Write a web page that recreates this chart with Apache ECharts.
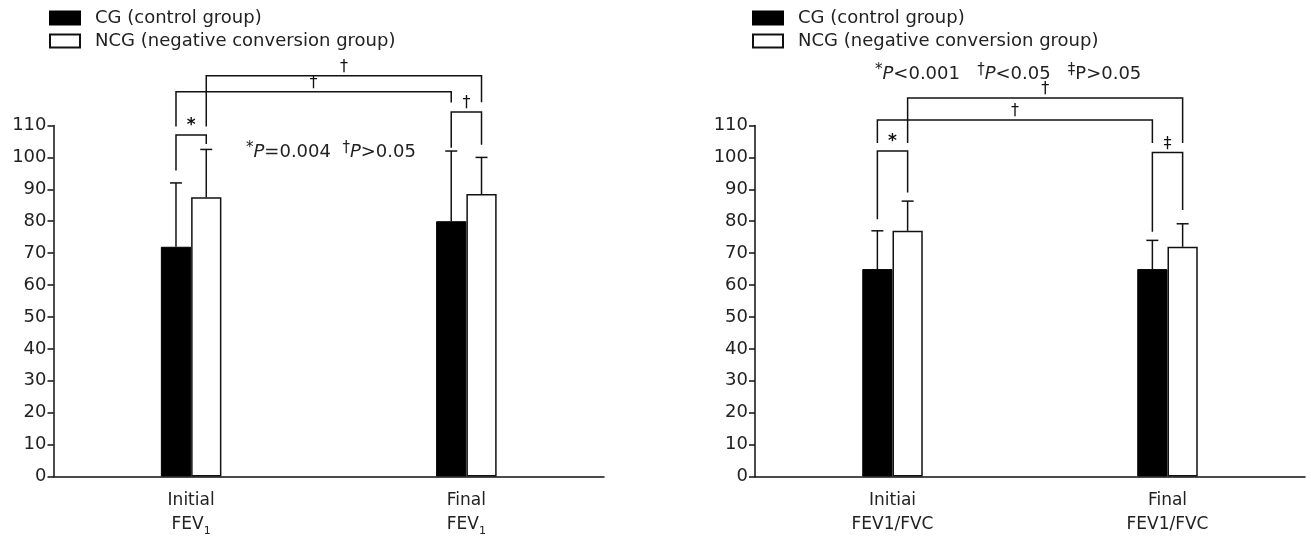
<!DOCTYPE html>
<html><head><meta charset="utf-8">
<script src="https://cdn.jsdelivr.net/npm/echarts@6/dist/echarts.min.js"></script>
<style>html,body{margin:0;padding:0;background:#fff}#c{width:1311px;height:540px}</style>
</head><body><div id="c"></div>
<script>
// ---- data ----
const seriesNames = ['CG (control group)', 'NCG (negative conversion group)'];
const categoriesLeft = ['Initial\nFEV_1', 'Final\nFEV_1'];
const categoriesRight = ['Initiai\nFEV1/FVC', 'Final\nFEV1/FVC'];
const yMin = 0, yMax = 110, yInterval = 10;
// left chart (FEV1)
const leftCG = [72, 80];
const leftCGUpper = [92, 102];
const leftNCG = [87.5, 88.5];
const leftNCGUpper = [102.5, 100];
// right chart (FEV1/FVC)
const rightCG = [65, 65];
const rightCGUpper = [77, 74];
const rightNCG = [77, 72];
const rightNCGUpper = [86.3, 79.2];
// significance brackets: [catA, groupA, catB, groupB, lineValue, legAEndValue, legBEndValue, mark]
const leftBrackets = [
  [0, 1, 1, 1, 125.6, 109.7, 117.3, '†'],
  [0, 0, 1, 0, 120.6, 109.7, 117.2, '†'],
  [0, 0, 0, 1, 107.0, 95.9, 104.2, '*'],
  [1, 0, 1, 1, 114.2, 103.0, 104.0, '†']
];
const rightBrackets = [
  [0, 1, 1, 1, 118.6, 104.5, 104.5, '†'],
  [0, 0, 1, 0, 111.7, 104.5, 104.5, '†'],
  [0, 0, 0, 1, 102.0, 80.6, 89.0, '*'],
  [1, 0, 1, 1, 101.5, 76.7, 83.5, '‡']
];
const leftNote = '{sup|*}{it|P}=0.004  {sup|†}{it|P}>0.05';
const rightNote = '{sup|*}{it|P}<0.001   {sup|†}{it|P}<0.05   {sup|‡}P>0.05';

// ---- styling ----
const FONT = 'DejaVu Sans';
const INK = '#111';
const TXT = '#222';
const BAR_FRAC = 0.11;

function errorSeries(g, group, means, uppers) {
  return {
    type: 'custom', xAxisIndex: g, yAxisIndex: g, silent: true, z: 5, clip: false,
    data: means.map((m, i) => [i, m, uppers[i]]),
    renderItem: (params, api) => {
      const cat = api.value(0);
      const c = api.coord([cat, api.value(1)]);
      const u = api.coord([cat, api.value(2)]);
      const bw = api.size([1, 0])[0] * BAR_FRAC;
      const x = c[0] + (group === 0 ? -1 : 1) * bw / 2;
      const cap = 6;
      return { type: 'group', children: [
        { type: 'line', shape: { x1: x, y1: c[1], x2: x, y2: u[1] }, style: { stroke: INK, lineWidth: 1.5 } },
        { type: 'line', shape: { x1: x - cap, y1: u[1], x2: x + cap, y2: u[1] }, style: { stroke: INK, lineWidth: 1.5 } }
      ]};
    }
  };
}

function bracketSeries(g, brackets) {
  return {
    type: 'custom', xAxisIndex: g, yAxisIndex: g, silent: true, z: 6, clip: false,
    data: brackets.map(b => [b[0], b[4]]),
    renderItem: (params, api) => {
      const b = brackets[params.dataIndex];
      const bw = api.size([1, 0])[0] * BAR_FRAC;
      const xa = api.coord([b[0], 0])[0] + (b[1] === 0 ? -1 : 1) * bw / 2;
      const xb = api.coord([b[2], 0])[0] + (b[3] === 0 ? -1 : 1) * bw / 2;
      const yl = api.coord([0, b[4]])[1];
      const ya = api.coord([0, b[5]])[1];
      const yb = api.coord([0, b[6]])[1];
      return { type: 'group', children: [
        { type: 'polyline', shape: { points: [[xa, ya], [xa, yl], [xb, yl], [xb, yb]] },
          style: { stroke: INK, lineWidth: 1.5, fill: null } },
        { type: 'text', x: (xa + xb) / 2, y: yl - 1,
          style: { text: b[7], fill: INK, font: (b[7] === '*' ? 'bold 17px ' : '16px ') + FONT, align: 'center', verticalAlign: 'bottom' } }
      ]};
    }
  };
}

function barSeries(g, idx, values) {
  return {
    name: seriesNames[idx], type: 'bar', xAxisIndex: g, yAxisIndex: g,
    data: values, barWidth: (BAR_FRAC * 100) + '%', barGap: '0%',
    itemStyle: idx === 0 ? { color: '#000', borderColor: '#000', borderWidth: 1 }
                         : { color: '#fff', borderColor: INK, borderWidth: 1.5 },
    silent: true, animation: false
  };
}

function catAxis(g, cats) {
  return {
    type: 'category', gridIndex: g, data: cats,
    axisLine: { lineStyle: { color: INK, width: 1.5 } },
    axisTick: { length: 7, lineStyle: { color: INK, width: 1.5 } },
    axisLabel: {
      margin: 12, fontFamily: FONT, fontSize: 17, color: TXT, lineHeight: 24,
      formatter: v => v.replace('_1', '{sub|1}'),
      rich: { sub: { fontFamily: FONT, fontSize: 11, color: TXT, verticalAlign: 'bottom', lineHeight: 18 } }
    }
  };
}
function valAxis(g) {
  return {
    type: 'value', gridIndex: g, min: yMin, max: yMax, interval: yInterval,
    axisLine: { show: true, lineStyle: { color: INK, width: 1.5 } },
    axisTick: { show: true, length: 6, lineStyle: { color: INK, width: 1.5 } },
    splitLine: { show: false },
    axisLabel: { margin: 7, fontFamily: FONT, fontSize: 18, color: TXT }
  };
}

const legendBase = {
  data: seriesNames, orient: 'vertical', icon: 'rect', itemWidth: 30, itemHeight: 13, itemGap: 5,
  selectedMode: false, padding: 0,
  textStyle: { fontFamily: FONT, fontSize: 18, color: TXT, lineHeight: 18, padding: [0, 0, 0, 10] }
};
const richNote = {
  sup: { fontFamily: FONT, fontSize: 15, fill: TXT, verticalAlign: 'top', padding: [0, 0, 8, 0] },
  it: { fontFamily: FONT, fontSize: 18, fontStyle: 'italic', fill: TXT }
};

const chart = echarts.init(document.getElementById('c'), null, { renderer: 'canvas' });
chart.setOption({
  animation: false,
  backgroundColor: '#fff',
  legend: [
    Object.assign({ left: 49, top: 9 }, legendBase),
    Object.assign({ left: 752, top: 9 }, legendBase)
  ],
  grid: [
    { left: 53.5, right: 707, top: 125.5, bottom: 63.5 },
    { left: 755, right: 6, top: 125.5, bottom: 63.5 }
  ],
  xAxis: [catAxis(0, categoriesLeft), catAxis(1, categoriesRight)],
  yAxis: [valAxis(0), valAxis(1)],
  graphic: [
    { type: 'text', left: 246, top: 141, style: { text: leftNote, font: '18px ' + FONT, fill: TXT, rich: richNote } },
    { type: 'text', left: 875, top: 63, style: { text: rightNote, font: '18px ' + FONT, fill: TXT, rich: richNote } }
  ],
  series: [
    barSeries(0, 0, leftCG), barSeries(0, 1, leftNCG),
    barSeries(1, 0, rightCG), barSeries(1, 1, rightNCG),
    errorSeries(0, 0, leftCG, leftCGUpper), errorSeries(0, 1, leftNCG, leftNCGUpper),
    errorSeries(1, 0, rightCG, rightCGUpper), errorSeries(1, 1, rightNCG, rightNCGUpper),
    bracketSeries(0, leftBrackets), bracketSeries(1, rightBrackets)
  ]
});
</script>
</body></html>
